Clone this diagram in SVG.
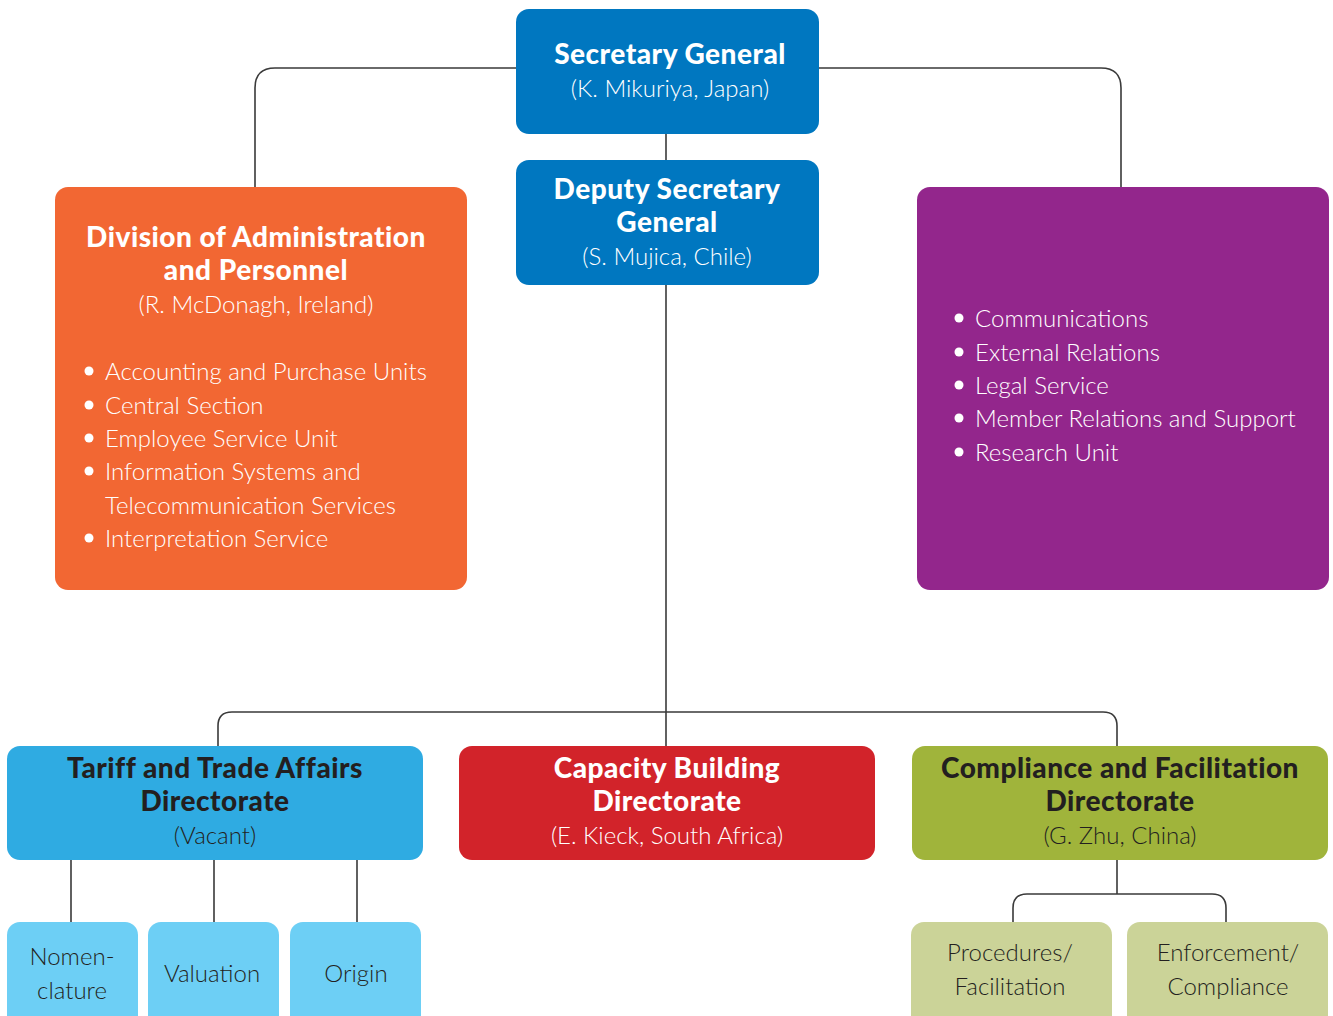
<svg xmlns="http://www.w3.org/2000/svg" width="1333" height="1016" viewBox="0 0 1333 1016">
<style>
.b{font-family:Lato,"Liberation Sans",sans-serif;font-weight:900;font-size:28px;letter-spacing:0.5px;text-anchor:middle}
.l{font-family:Lato,"Liberation Sans",sans-serif;font-weight:300;font-size:24px}
.c{text-anchor:middle}
.w{fill:#fff}
.k{fill:#231f20}
.ln{fill:none;stroke:#3a3a3a;stroke-width:1.6}
</style>
<rect width="1333" height="1016" fill="#fff"/>
<g id="connectors">
<path class="ln" d="M516 68 H275 Q255 68 255 88 V187"/>
<path class="ln" d="M819 68 H1101 Q1121 68 1121 88 V187"/>
<path class="ln" d="M666 134 V160"/>
<path class="ln" d="M666 285 V746"/>
<path class="ln" d="M218 746 V726 Q218 712 232 712 H1103 Q1117 712 1117 726 V746"/>
<path class="ln" d="M71 860 V922 M214 860 V922 M357 860 V922"/>
<path class="ln" d="M1117 860 V894 M1013 922 V908 Q1013 894 1027 894 H1212 Q1226 894 1226 908 V922"/>
</g>
<g id="sg">
<rect x="516" y="9" width="303" height="125" rx="13" fill="#0077c0"/>
<text class="b w" x="670" y="64">Secretary General</text>
<text class="l w c" x="670" y="97">(K. Mikuriya, Japan)</text>
</g>
<g id="dsg">
<rect x="516" y="160" width="303" height="125" rx="13" fill="#0077c0"/>
<text class="b w" x="667" y="199">Deputy Secretary</text>
<text class="b w" x="667" y="232">General</text>
<text class="l w c" x="667" y="265">(S. Mujica, Chile)</text>
</g>
<g id="admin">
<rect x="55" y="187" width="412" height="403" rx="13" fill="#f26733"/>
<text class="b w" x="256" y="247">Division of Administration</text>
<text class="b w" x="256" y="280">and Personnel</text>
<text class="l w c" x="256" y="313">(R. McDonagh, Ireland)</text>
<g class="w">
<circle cx="89" cy="371" r="4.5"/><circle cx="89" cy="405" r="4.5"/><circle cx="89" cy="438" r="4.5"/><circle cx="89" cy="471" r="4.5"/><circle cx="89" cy="538" r="4.5"/>
</g>
<text class="l w" x="105" y="380">Accounting and Purchase Units</text>
<text class="l w" x="105" y="414">Central Section</text>
<text class="l w" x="105" y="447">Employee Service Unit</text>
<text class="l w" x="105" y="480">Information Systems and</text>
<text class="l w" x="105" y="514">Telecommunication Services</text>
<text class="l w" x="105" y="547">Interpretation Service</text>
</g>
<g id="purple">
<rect x="917" y="187" width="412" height="403" rx="13" fill="#93268c"/>
<g class="w">
<circle cx="959" cy="318" r="4.5"/><circle cx="959" cy="352" r="4.5"/><circle cx="959" cy="385" r="4.5"/><circle cx="959" cy="418" r="4.5"/><circle cx="959" cy="452" r="4.5"/>
</g>
<text class="l w" x="975" y="327">Communications</text>
<text class="l w" x="975" y="361">External Relations</text>
<text class="l w" x="975" y="394">Legal Service</text>
<text class="l w" x="975" y="427">Member Relations and Support</text>
<text class="l w" x="975" y="461">Research Unit</text>
</g>
<g id="tariff">
<rect x="7" y="746" width="416" height="114" rx="13" fill="#2fabe2"/>
<text class="b k" x="215" y="778">Tariff and Trade Affairs</text>
<text class="b k" x="215" y="811">Directorate</text>
<text class="l k c" x="215" y="844">(Vacant)</text>
</g>
<g id="capacity">
<rect x="459" y="746" width="416" height="114" rx="13" fill="#d2232a"/>
<text class="b w" x="667" y="778">Capacity Building</text>
<text class="b w" x="667" y="811">Directorate</text>
<text class="l w c" x="667" y="844">(E. Kieck, South Africa)</text>
</g>
<g id="compliance">
<rect x="912" y="746" width="416" height="114" rx="13" fill="#a0b43b"/>
<text class="b k" x="1120" y="778">Compliance and Facilitation</text>
<text class="b k" x="1120" y="811">Directorate</text>
<text class="l k c" x="1120" y="844">(G. Zhu, China)</text>
</g>
<g id="nomenclature">
<rect x="7" y="922" width="131" height="110" rx="13" fill="#6dcff5"/>
<text class="l k c" x="72" y="965">Nomen-</text>
<text class="l k c" x="72" y="999">clature</text>
</g>
<g id="valuation">
<rect x="148" y="922" width="131" height="110" rx="13" fill="#6dcff5"/>
<text class="l k c" x="212" y="982">Valuation</text>
</g>
<g id="origin">
<rect x="290" y="922" width="131" height="110" rx="13" fill="#6dcff5"/>
<text class="l k c" x="356" y="982">Origin</text>
</g>
<g id="procedures">
<rect x="911" y="922" width="201" height="110" rx="13" fill="#cbd398"/>
<text class="l k c" x="1010" y="961">Procedures/</text>
<text class="l k c" x="1010" y="995">Facilitation</text>
</g>
<g id="enforcement">
<rect x="1127" y="922" width="201" height="110" rx="13" fill="#cbd398"/>
<text class="l k c" x="1228" y="961">Enforcement/</text>
<text class="l k c" x="1228" y="995">Compliance</text>
</g>
</svg>
